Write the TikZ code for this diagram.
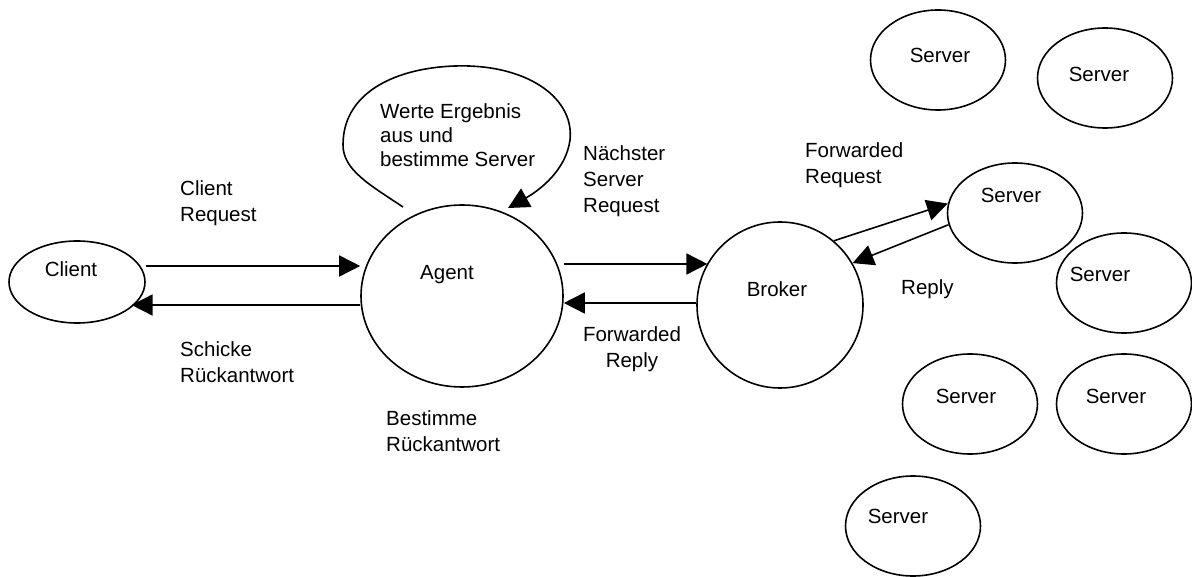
\documentclass[tikz,border=0pt]{standalone}
\usepackage{fontspec}
\setmainfont{Liberation Sans}
\usetikzlibrary{arrows.meta,shapes.geometric}

% multi-line labels whose reference point is the baseline of the first line
\newcommand{\lblstack}[1]{\vtop{\halign{##\hfil\cr#1\cr}}}
\newcommand{\lblstackc}[1]{\vtop{\halign{\hfil##\hfil\cr#1\cr}}}

\begin{document}
\begin{tikzpicture}[x=1pt,y=-1pt,
  every node/.style={inner sep=0pt, font=\fontsize{20.5}{26}\selectfont},
  blob/.style={draw, ellipse, line width=1.6pt},
  server/.style={blob, minimum width=135pt, minimum height=100pt},
  txt/.style={anchor=base west},
  ctxt/.style={anchor=base},
  flow/.style={line width=1.6pt, -{Triangle[length=21pt,width=21pt]}}]

\useasboundingbox (0,0) rectangle (1192,577);

% main participants
\node[blob, minimum width=136pt, minimum height=82pt]  (client) at (77,282) {};
\node[blob, minimum width=202pt, minimum height=182pt] (agent)  at (462,296) {};
\node[blob, minimum width=166pt, minimum height=166pt] (broker) at (780,305) {};

\node[ctxt] (clientname) at (71,277)  {Client};
\node[ctxt] (agentname)  at (447,280) {Agent};
\node[ctxt] (brokername) at (777,297) {Broker};

% pool of servers
\node[server] (s1) at (938,60)   {};
\node[server] (s2) at (1105,78)  {};
\node[server] (s3) at (1015,213) {};
\node[server] (s4) at (1124,283) {};
\node[server] (s5) at (970,404)  {};
\node[server] (s6) at (1124,404) {};
\node[server] (s7) at (913,526)  {};

\node[ctxt] (s1name) at (940,63)   {Server};
\node[ctxt] (s2name) at (1099,82)  {Server};
\node[ctxt] (s3name) at (1011,203) {Server};
\node[ctxt] (s4name) at (1100,282) {Server};
\node[ctxt] (s5name) at (966,403)  {Server};
\node[ctxt] (s6name) at (1116,403) {Server};
\node[ctxt] (s7name) at (898,523)  {Server};

% heights of the horizontal message lines
\coordinate (yclreq) at (0,266);
\coordinate (yclrep) at (0,305);
\coordinate (ybrreq) at (0,264);
\coordinate (ybrrep) at (0,303);

% client <-> agent
\draw[flow] (client.east |- yclreq) -- (agent.west |- yclreq);
\draw[flow] (agent.west |- yclrep) -- (client.-25 |- yclrep);

% agent <-> broker
\draw[flow] (agent.east |- ybrreq) -- (broker.150 |- ybrreq);
\draw[flow] (broker.west |- ybrrep) -- (agent.east |- ybrrep);

% broker <-> server
\draw[flow] (broker.50) -- (s3.172);
\draw[flow] (s3.190) -- (broker.30);

% agent evaluates the result and picks the next server
\coordinate (loopfrom) at (403,207);
\coordinate (loopto)   at (508,208);
\draw[flow] (loopfrom) .. controls (370,185) and (343,170) .. (343,145)
                       .. controls (343,95) and (390,72) .. (440,67)
                       .. controls (520,59) and (575,95) .. (570,140)
                       .. controls (566,170) and (540,190) .. (loopto);

% message labels
\node[txt] (lclreq) at (180,196) {\lblstack{Client\cr Request}};
\node[txt] (lclrep) at (180,357) {\lblstack{Schicke\cr Rückantwort}};
\node[txt] (lbest)  at (386,425) {\lblstack{Bestimme\cr Rückantwort}};
\node[txt, font=\fontsize{20.5}{24}\selectfont] (lloop) at (380,119)
  {\lblstack{Werte Ergebnis\cr aus und\cr bestimme Server}};
\node[txt] (lnext)  at (583,161) {\lblstack{Nächster\cr Server\cr Request}};
\node[txt] (lfwreq) at (805,158) {\lblstack{Forwarded\cr Request}};
\node[ctxt] (lfwrep) at (632,342) {\lblstackc{Forwarded\cr Reply}};
\node[txt] (lrep)   at (901,295) {Reply};

\end{tikzpicture}
\end{document}
